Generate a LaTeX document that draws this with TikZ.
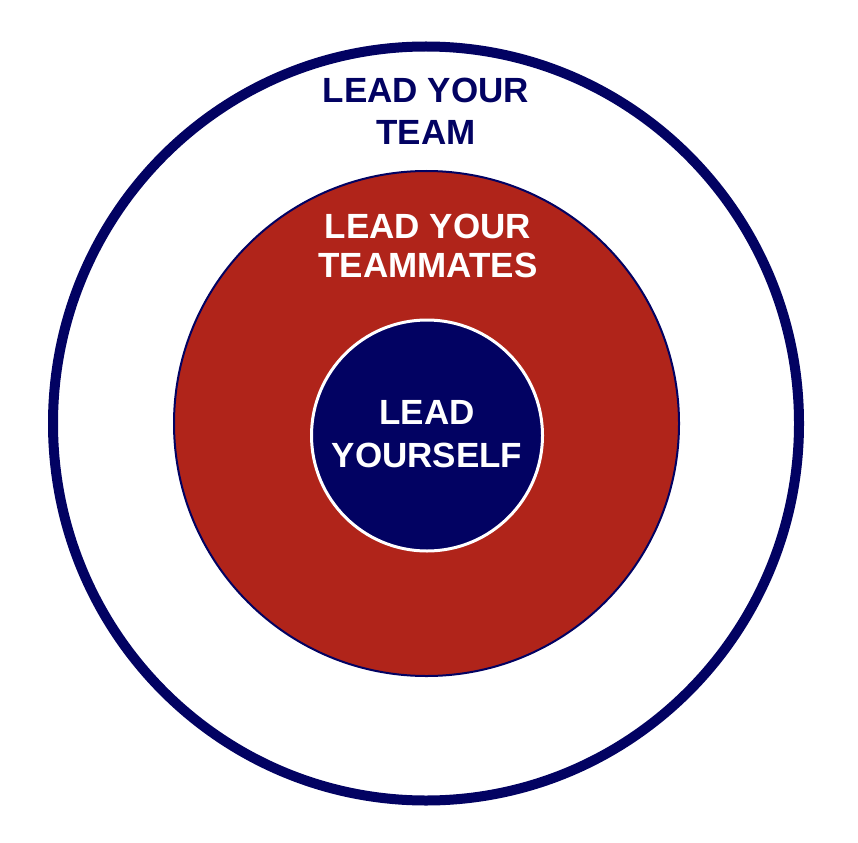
\documentclass[tikz,border=0pt]{standalone}
\usepackage{fontspec}
\setmainfont{Liberation Sans}
\definecolor{navy}{RGB}{2,2,98}
\definecolor{leadred}{RGB}{176,36,26}
\tikzset{
  lbl/.style={anchor=base, inner sep=0pt, font=\fontsize{35}{40}\selectfont\bfseries},
  navylbl/.style={lbl, text=navy},
  whitelbl/.style={lbl, text=white}
}
\begin{document}
\begin{tikzpicture}[x=1pt,y=-1pt]
\useasboundingbox[fill=white] (0,0) rectangle (858,842);
% outer ring
\draw[navy, line width=10pt] (426,423.5) ellipse [x radius=373, y radius=377];
% red disc
\draw[fill=leadred, draw=navy, line width=2pt] (426.5,423.5) circle [radius=252.5];
% inner disc
\draw[fill=navy, draw=white, line width=3pt] (427,435.5) circle [radius=115.5];
% labels
\node[navylbl] (t1) at (426,103) {LEAD YOUR};
\node[navylbl] (t2) at (426,145) {TEAM};
\node[whitelbl] (m1) at (428,238) {LEAD YOUR};
\node[whitelbl] (m2) at (428,277) {TEAMMATES};
\node[whitelbl] (y1) at (427,424) {LEAD};
\node[whitelbl] (y2) at (427,467) {YOURSELF};
\end{tikzpicture}
\end{document}
